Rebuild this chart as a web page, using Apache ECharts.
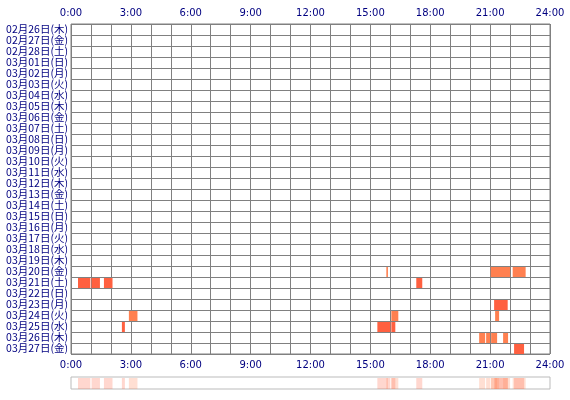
<!DOCTYPE html>
<html>
<head>
<meta charset="utf-8">
<script src="https://cdn.jsdelivr.net/npm/echarts@6/dist/echarts.min.js"></script>
<style>html,body{margin:0;padding:0;background:#fff}#chart{width:570px;height:400px}</style>
</head>
<body>
<div id="chart"></div>
<script>
const days = ['02月26日(木)','02月27日(金)','02月28日(土)','03月01日(日)','03月02日(月)','03月03日(火)','03月04日(水)','03月05日(木)','03月06日(金)','03月07日(土)','03月08日(日)','03月09日(月)','03月10日(火)','03月11日(水)','03月12日(木)','03月13日(金)','03月14日(土)','03月15日(日)','03月16日(月)','03月17日(火)','03月18日(水)','03月19日(木)','03月20日(金)','03月21日(土)','03月22日(日)','03月23日(月)','03月24日(火)','03月25日(水)','03月26日(木)','03月27日(金)'];
// [day index, start hour, end hour, tone (0 dark, 1 light)]
const segments = [
	[22, 15.8, 15.88, 1], [22, 21.03, 22.0, 1], [22, 22.13, 22.78, 1],
	[23, 0.35, 0.97, 0], [23, 1.03, 1.45, 0], [23, 1.65, 2.08, 0], [23, 17.3, 17.6, 0],
	[25, 21.2, 21.88, 0],
	[26, 2.9, 3.33, 1], [26, 16.05, 16.4, 1], [26, 21.25, 21.45, 1],
	[27, 2.55, 2.7, 0], [27, 15.35, 16.0, 0], [27, 16.05, 16.25, 0],
	[28, 20.45, 20.75, 1], [28, 20.8, 21.0, 1], [28, 21.05, 21.35, 1], [28, 21.65, 21.9, 1],
	[29, 22.2, 22.7, 0]
];
const hourLabels = ['0:00','3:00','6:00','9:00','12:00','15:00','18:00','21:00','24:00'];
const tones = ['#ff6040', '#ff8050'];

const chart = echarts.init(document.querySelector('#chart'));

function xAxisDef(gridIndex, position, showLabel) {
	return {
		type: 'value', gridIndex, position, min: 0, max: 24, interval: 1,
		axisLine: { show: false }, axisTick: { show: false },
		splitLine: { show: gridIndex === 0, lineStyle: { color: '#808080', width: 1 } },
		axisLabel: {
			show: showLabel, color: '#000080', fontSize: 10, margin: 6,
			fontFamily: 'DejaVu Sans',
			formatter: v => (v % 3 === 0 ? hourLabels[v / 3] : '')
		}
	};
}

function renderSeg(params, api) {
	const s = segments[params.dataIndex];
	const a = api.coord([s[1], s[0]]);
	const b = api.coord([s[2], s[0]]);
	const h = api.size([0, 1])[1];
	return {
		type: 'rect',
		shape: { x: a[0], y: a[1] - h / 2 + 1, width: Math.max(b[0] - a[0], 1.5), height: h - 1 },
		style: { fill: tones[s[3]] }
	};
}

chart.setOption({
	animation: false,
	grid: [
		{ left: 71, right: 20, top: 24, height: 330, show: true, borderColor: '#808080', borderWidth: 1 },
		{ left: 71, right: 20, top: 377, height: 12, show: true, borderColor: '#bbbbbb', borderWidth: 1 }
	],
	xAxis: [
		xAxisDef(0, 'top', true),
		xAxisDef(0, 'bottom', true),
		xAxisDef(1, 'bottom', false)
	],
	yAxis: [
		{
			type: 'category', data: days, inverse: true, gridIndex: 0,
			axisLine: { show: false }, axisTick: { show: false },
			splitLine: { show: true, interval: 0, lineStyle: { color: '#808080' } },
			axisLabel: { color: '#000080', fontSize: 10.5, margin: 3, interval: 0, fontFamily: 'Noto Sans CJK JP' },
			boundaryGap: true
		},
		{
			type: 'category', data: days, inverse: true, gridIndex: 1,
			axisLine: { show: false }, axisTick: { show: false }, axisLabel: { show: false }
		}
	],
	series: [
		{ type: 'custom', xAxisIndex: 0, yAxisIndex: 0, renderItem: renderSeg, data: segments.map(s => [s[1], s[0]]) },
		{
			type: 'custom', xAxisIndex: 2, yAxisIndex: 1,
			renderItem(params, api) {
				const s = segments[params.dataIndex];
				const a = api.coord([s[1], 0]);
				const b = api.coord([s[2], 0]);
				return {
					type: 'rect',
					shape: { x: a[0], y: 378, width: Math.max(b[0] - a[0], 1.5), height: 11 },
					style: { fill: tones[s[3]], opacity: 0.25 }
				};
			},
			data: segments.map(s => [s[1], 0])
		}
	]
});
</script>
</body>
</html>
